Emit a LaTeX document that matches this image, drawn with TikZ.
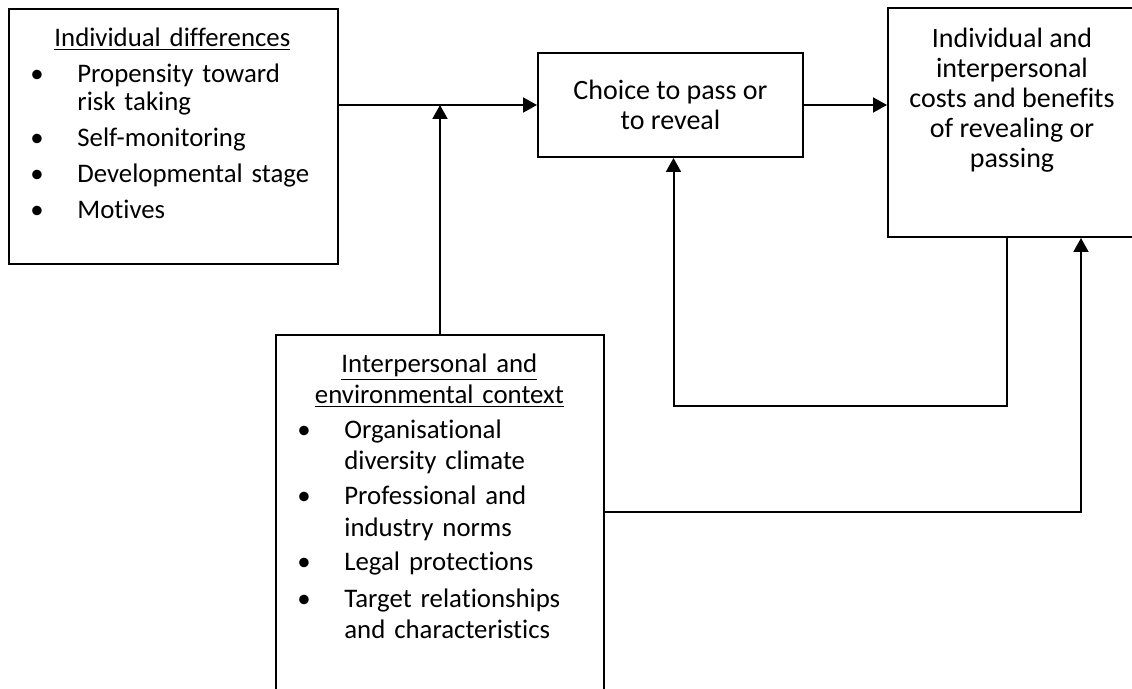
\documentclass[tikz,border=0pt]{standalone}
\usepackage{fontspec}
\setmainfont{Carlito}[Ligatures=NoCommon]
\usetikzlibrary{arrows.meta}

\newcommand{\bitem}[2][4pt]{\par\vspace{#1}\hangindent=24.5pt\hangafter=1\noindent\makebox[24.5pt][l]{\hspace{1pt}\textbullet}#2}
\newcommand{\bhead}[1]{\noindent\makebox[144pt][c]{#1}\par}

\begin{document}
\begin{tikzpicture}
  [x=0.5pt,y=-0.5pt,
   every node/.style={font=\fontsize{14}{15}\selectfont},
   box/.style={draw,line width=1pt,rectangle,anchor=north west,inner sep=0pt},
   list/.style={anchor=north west,inner sep=0pt,text width=160pt},
   arr/.style={line width=1pt,-{Triangle[length=7pt,width=7.5pt]}}]
  \path[use as bounding box,clip] (0,0) rectangle (1132,689);
  % boxes
  \node (diff) [box,minimum width=164.5pt,minimum height=127.5pt] at (8,8) {};
  \node (choice) [box,minimum width=132.5pt,minimum height=52pt,align=center] at (537,52) {Choice to pass or\\to reveal};
  \node (costs) [box,minimum width=125pt,minimum height=114.5pt] at (887,7) {};
  \node (context) [box,minimum width=164pt,minimum height=200pt] at (275,334) {};
  % box texts
  \node (difftxt) [list,font=\fontsize{13.4}{14}\selectfont] at (28,27) {\raggedright
    \bhead{\underline{Individual differences}}
    \bitem{Propensity toward\newline risk taking}
    \bitem{Self-monitoring}
    \bitem{Developmental stage}
    \bitem{Motives}\par};
  \node (coststxt) [anchor=north,align=center,inner sep=0pt] at (1012,28)
    {Individual and\\interpersonal\\costs and benefits\\of revealing or\\passing};
  \node (contexttxt) [list,font=\fontsize{13.4}{15.8}\selectfont] at (295,353) {\raggedright
    \bhead{\underline{Interpersonal and}}
    \bhead{\underline{environmental context}}
    \bitem[1.5pt]{Organisational\newline diversity climate}
    \bitem[1.5pt]{Professional and\newline industry norms}
    \bitem[1.5pt]{Legal protections}
    \bitem[2.5pt]{Target relationships\newline and characteristics}\par};
  % connectors
  \coordinate (join) at (context.north |- choice.west);
  \coordinate (loop) at (1007,406);
  \coordinate (corner) at (1081,512);
  \draw[arr] (diff.east |- choice.west) -- (choice.west);
  \draw[arr] (choice.east) -- (costs.west |- choice.east);
  \draw[arr] (context.north) -- (join);
  \draw[arr] (costs.south -| loop) -- (loop) -| ([xshift=1.5pt]choice.south);
  \draw[arr] (context.east |- corner) -- (corner) -- (costs.south -| corner);
\end{tikzpicture}
\end{document}
